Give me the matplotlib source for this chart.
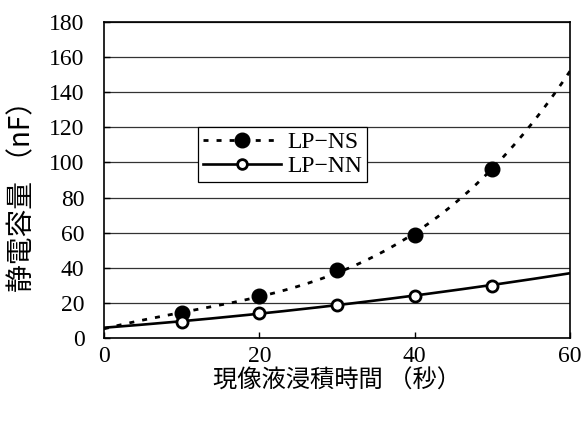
import numpy as np
import matplotlib
matplotlib.use("Agg")
import matplotlib.pyplot as plt
from matplotlib.lines import Line2D

# measured capacitance at each immersion time
times = [10, 20, 30, 40, 50]
lp_ns = [14, 24, 38.5, 58.5, 96]
lp_nn = [9, 14, 18.5, 24, 29.7]

# trend curves over the full time range
trend_times = [0, 10, 20, 30, 40, 50, 60]
trend_ns = [5.5, 13.5, 24, 38, 58.5, 97, 152]
trend_nn = [5.7, 9.5, 14, 18.7, 24, 30, 37]

series_names = ["LP\u2212NS", "LP\u2212NN"]
x_ticks = [0, 20, 40, 60]
y_ticks = list(range(0, 181, 20))

serif = ["Liberation Serif", "DejaVu Serif"]
cjk = ["Noto Sans CJK JP", "DejaVu Sans"]

fig = plt.figure(figsize=(5.84, 4.25), dpi=100)
ax = fig.add_axes([0.178, 0.205, 0.798, 0.743])

xs = np.linspace(0, 60, 300)
fit_ns = np.polyval(np.polyfit(trend_times, trend_ns, 3), xs)
fit_nn = np.polyval(np.polyfit(trend_times, trend_nn, 2), xs)

dot_style = (0, (1.8, 2.9))
ax.plot(xs, fit_ns, color="black", lw=2.0, linestyle=dot_style, zorder=3)
ax.plot(xs, fit_nn, color="black", lw=1.9, linestyle="-", zorder=3)

ax.plot(times, lp_ns, linestyle="none", marker="o", ms=10.5,
        mfc="black", mec="black", zorder=4)
ax.plot(times, lp_nn, linestyle="none", marker="o", ms=8,
        mfc="white", mec="black", mew=2, zorder=4)

ax.set_xlim(0, 60)
ax.set_ylim(0, 180)
ax.set_xticks(x_ticks)
ax.set_yticks(y_ticks)
ax.yaxis.grid(True, color="#333333", lw=0.9)
ax.set_axisbelow(True)
ax.tick_params(direction="in", length=4, width=1)
ax.tick_params(axis="x", pad=6)
ax.tick_params(axis="y", pad=14)
for lab in ax.get_xticklabels() + ax.get_yticklabels():
    lab.set_fontfamily(serif)
    lab.set_fontsize(17)
for sp in ax.spines.values():
    sp.set_linewidth(1.2)
    sp.set_color("black")

ax.set_xlabel("現像液浸積時間 （秒）", family=cjk, fontsize=17.5)
ax.xaxis.set_label_coords(0.5, -0.178)
ax.xaxis.label.set_verticalalignment("bottom")
ax.set_ylabel("静電容量 （nF）", family=cjk, fontsize=20, va="center")
ax.yaxis.set_label_coords(-0.176, 0.47)

handles = [
    Line2D([], [], color="black", lw=2.0, linestyle=dot_style, marker="o",
           ms=10.5, mfc="black", mec="black"),
    Line2D([], [], color="black", lw=1.9, marker="o", ms=7,
           mfc="white", mec="black", mew=2),
]
leg = ax.legend(handles, series_names, loc="upper left",
                bbox_to_anchor=(0.2017, 0.668), borderaxespad=0,
                handlelength=3.3, handletextpad=0.3, labelspacing=0.1,
                borderpad=0.2, fancybox=False, framealpha=1,
                edgecolor="black", prop={"family": serif, "size": 17})
leg.get_frame().set_linewidth(0.9)

fig.savefig("out.png", dpi=100)
